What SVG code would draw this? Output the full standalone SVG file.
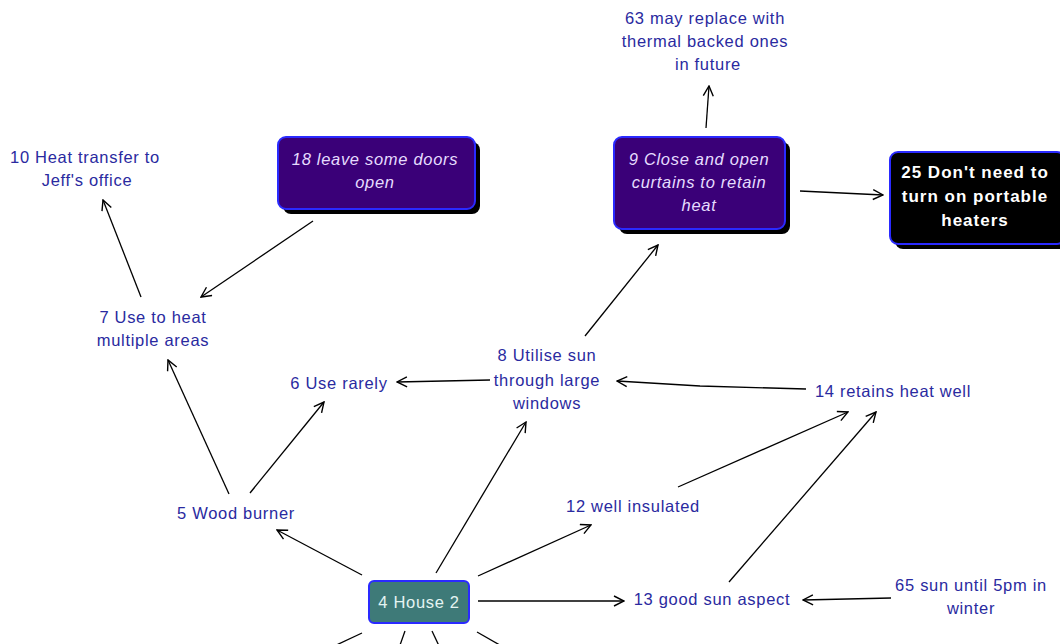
<svg xmlns="http://www.w3.org/2000/svg" width="1060" height="644" viewBox="0 0 1060 644">
<style>
  .lbl { font-family: "Liberation Sans", Arial, sans-serif; font-size: 16.5px; letter-spacing: 0.7px; fill: #2a2aa0; text-anchor: middle; }
  .boxtxt { font-family: "Liberation Sans", Arial, sans-serif; font-size: 16.5px; letter-spacing: 0.7px; fill: #e6dcff; font-style: italic; text-anchor: middle; }
  .boldtxt { font-family: "Liberation Sans", Arial, sans-serif; font-size: 17px; letter-spacing: 1px; fill: #ffffff; font-weight: bold; text-anchor: middle; }
  .housetxt { font-family: "Liberation Sans", Arial, sans-serif; font-size: 16.5px; letter-spacing: 0.7px; fill: #e4f4f2; text-anchor: middle; }
  .shadow { fill: #000000; }
  .purple { fill: #3a0078; stroke: #2a2aff; stroke-width: 2; }
  .black { fill: #000000; stroke: #2a2aff; stroke-width: 2; }
  .teal { fill: #3e7a78; stroke: #2a2aff; stroke-width: 2; }
  .link { stroke: #000000; stroke-width: 1.3; fill: none; marker-end: url(#arrow); }
  .stub { stroke: #000000; stroke-width: 1.3; fill: none; }
</style>
<defs>
  <marker id="arrow" viewBox="0 0 12 12" refX="11" refY="6" markerWidth="12" markerHeight="12" markerUnits="userSpaceOnUse" orient="auto">
    <path d="M1,1 L11,6 L1,11" fill="none" stroke="#000000" stroke-width="1.4"/>
  </marker>
</defs>
<rect width="1060" height="644" fill="#ffffff"/>

<g id="connectors">
  <line class="link" x1="706" y1="128" x2="709" y2="86"/>
  <line class="link" x1="800" y1="191" x2="883" y2="195"/>
  <line class="link" x1="313" y1="221" x2="201" y2="297"/>
  <line class="link" x1="141" y1="297" x2="103" y2="200"/>
  <line class="link" x1="490" y1="380" x2="397" y2="382"/>
  <line class="link" x1="585" y1="336" x2="658" y2="245"/>
  <polyline class="link" points="806,389 700,386 617,381"/>
  <line class="link" x1="229" y1="494" x2="168" y2="360"/>
  <line class="link" x1="250" y1="493" x2="324" y2="402"/>
  <line class="link" x1="678" y1="487" x2="848" y2="412"/>
  <line class="link" x1="729" y1="582" x2="876" y2="412"/>
  <line class="link" x1="891" y1="598" x2="803" y2="600"/>
  <line class="link" x1="362" y1="575" x2="277" y2="530"/>
  <line class="link" x1="436" y1="573" x2="526" y2="422"/>
  <line class="link" x1="478" y1="576" x2="591" y2="525"/>
  <line class="link" x1="478" y1="601" x2="624" y2="601"/>
  <line class="stub" x1="362" y1="633" x2="330" y2="648"/>
  <line class="stub" x1="405" y1="631" x2="399" y2="648"/>
  <line class="stub" x1="432" y1="631" x2="440" y2="648"/>
  <line class="stub" x1="477" y1="632" x2="505" y2="648"/>
</g>

<g id="n63">
  <text class="lbl" x="705" y="24">63 may replace with</text>
  <text class="lbl" x="705" y="47">thermal backed ones</text>
  <text class="lbl" x="708" y="70">in future</text>
</g>

<g id="n10">
  <text class="lbl" x="85" y="163">10 Heat transfer to</text>
  <text class="lbl" x="87" y="186">Jeff's office</text>
</g>

<g id="n18">
  <rect class="shadow" x="283" y="142" width="197" height="72" rx="8"/>
  <rect class="purple" x="278" y="137" width="197" height="72" rx="8"/>
  <text class="boxtxt" x="375" y="165">18 leave some doors</text>
  <text class="boxtxt" x="375" y="188">open</text>
</g>

<g id="n9">
  <rect class="shadow" x="619" y="142" width="171" height="92" rx="8"/>
  <rect class="purple" x="614" y="137" width="171" height="92" rx="8"/>
  <text class="boxtxt" x="699" y="165">9 Close and open</text>
  <text class="boxtxt" x="699" y="188">curtains to retain</text>
  <text class="boxtxt" x="699" y="211">heat</text>
</g>

<g id="n25">
  <rect class="shadow" x="895" y="157" width="175" height="92" rx="8"/>
  <rect class="black" x="890" y="152" width="175" height="92" rx="8"/>
  <text class="boldtxt" x="975" y="178">25 Don't need to</text>
  <text class="boldtxt" x="975" y="202">turn on portable</text>
  <text class="boldtxt" x="975" y="226">heaters</text>
</g>

<g id="n7">
  <text class="lbl" x="153" y="323">7 Use to heat</text>
  <text class="lbl" x="153" y="346">multiple areas</text>
</g>

<g id="n6">
  <text class="lbl" x="339" y="389">6 Use rarely</text>
</g>

<g id="n8">
  <text class="lbl" x="547" y="361">8 Utilise sun</text>
  <text class="lbl" x="547" y="386">through large</text>
  <text class="lbl" x="547" y="409">windows</text>
</g>

<g id="n14">
  <text class="lbl" x="893" y="397">14 retains heat well</text>
</g>

<g id="n5">
  <text class="lbl" x="236" y="519">5 Wood burner</text>
</g>

<g id="n12">
  <text class="lbl" x="633" y="512">12 well insulated</text>
</g>

<g id="n13">
  <text class="lbl" x="712" y="605">13 good sun aspect</text>
</g>

<g id="n65">
  <text class="lbl" x="971" y="591">65 sun until 5pm in</text>
  <text class="lbl" x="971" y="614">winter</text>
</g>

<g id="n4">
  <rect class="teal" x="369" y="581" width="100" height="42" rx="5"/>
  <text class="housetxt" x="419" y="608">4 House 2</text>
</g>
</svg>
